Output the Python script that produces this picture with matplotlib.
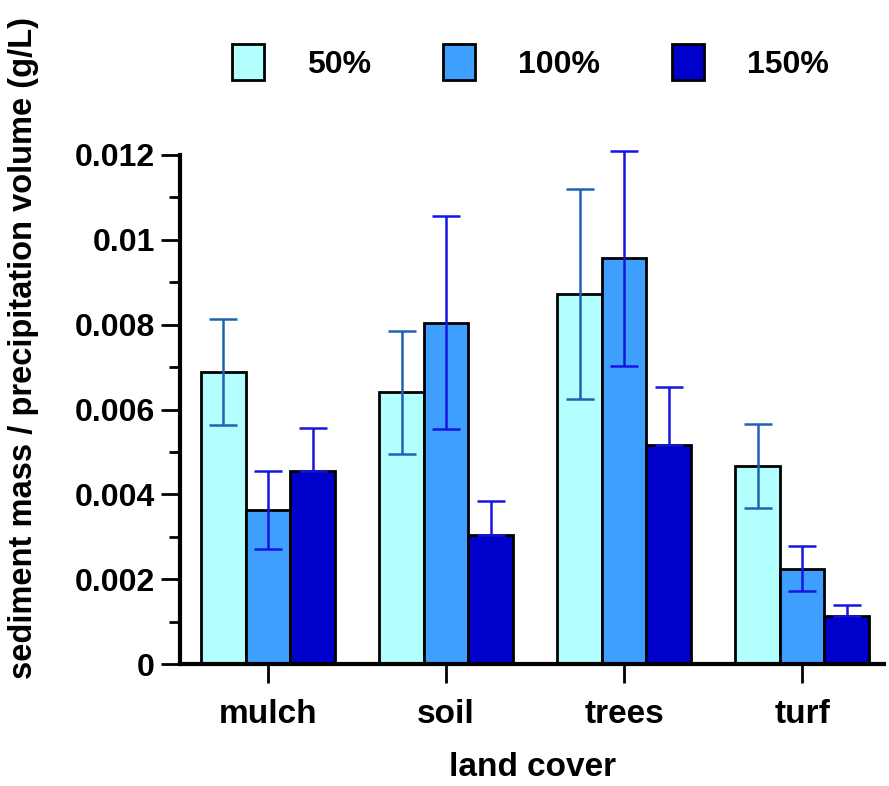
import matplotlib
matplotlib.use("Agg")
import matplotlib.pyplot as plt
import numpy as np
from matplotlib.ticker import FixedLocator, MultipleLocator, FuncFormatter

categories = ["mulch", "soil", "trees", "turf"]
series_names = ["50%", "100%", "150%"]
values_50 = [0.00688, 0.00641, 0.00872, 0.00468]
values_100 = [0.00364, 0.00804, 0.00956, 0.00225]
values_150 = [0.00456, 0.00304, 0.00516, 0.00113]
err_50 = [0.00125, 0.00145, 0.00247, 0.00099]
err_100 = [0.00092, 0.00251, 0.00253, 0.00053]
err_150 = [0.00100, 0.00080, 0.00138, 0.00027]
yticks = [0, 0.002, 0.004, 0.006, 0.008, 0.01, 0.012]

bar_colors = ["#b3ffff", "#3f9fff", "#0000cd"]
err_colors = ["#1f62b4", "#1515e0", "#1515e0"]

plt.rcParams['font.family'] = ['Liberation Sans', 'DejaVu Sans']
plt.rcParams['font.weight'] = 'bold'

fig = plt.figure(figsize=(8.89, 7.86), dpi=100)
ax = fig.add_axes([0.2025, 0.155, 0.792, 0.648])

x = np.arange(len(categories))
w = 0.25
offsets = [-w, 0, w]
all_vals = [values_50, values_100, values_150]
all_errs = [err_50, err_100, err_150]
handles = []
for i in range(3):
    b = ax.bar(x + offsets[i], all_vals[i], width=w, color=bar_colors[i],
               edgecolor="black", linewidth=2, label=series_names[i], zorder=2)
    handles.append(b)
    if i == 2:
        yerr = [np.zeros(len(all_errs[i])), all_errs[i]]
    else:
        yerr = all_errs[i]
    ax.errorbar(x + offsets[i], all_vals[i], yerr=yerr, fmt='none',
                ecolor=err_colors[i], elinewidth=1.8, capsize=10, capthick=1.8,
                zorder=3, clip_on=False)

ax.set_xlim(-0.494, 3.46)
ax.set_ylim(0, 0.012)
ax.yaxis.set_major_locator(FixedLocator(yticks))
ax.yaxis.set_minor_locator(MultipleLocator(0.001))
ax.yaxis.set_major_formatter(FuncFormatter(lambda v, p: "%g" % round(v, 4)))
ax.set_xticks(x)
ax.set_xticklabels(categories)

for s in ["top", "right"]:
    ax.spines[s].set_visible(False)
for s in ["left", "bottom"]:
    ax.spines[s].set_linewidth(3)

ax.tick_params(axis='y', which='major', length=14, width=2, labelsize=23, pad=4)
ax.tick_params(axis='y', which='minor', length=8, width=2)
ax.tick_params(axis='x', which='major', length=14, width=2, labelsize=24, pad=11)

ax.set_xlabel("land cover", fontsize=24, fontweight='bold', labelpad=16)
ax.set_ylabel("sediment mass / precipitation volume (g/L)", fontsize=23.5,
              fontweight='bold')
ax.yaxis.set_label_coords(-0.2, 0.62)

fig.legend(handles=handles, labels=series_names, ncol=3, loc='center',
           bbox_to_anchor=(0.597, 0.921), frameon=False, fontsize=23,
           handlelength=1.0, handleheight=1.35, handletextpad=1.35,
           columnspacing=2.25)

fig.savefig("out.png", dpi=100)
